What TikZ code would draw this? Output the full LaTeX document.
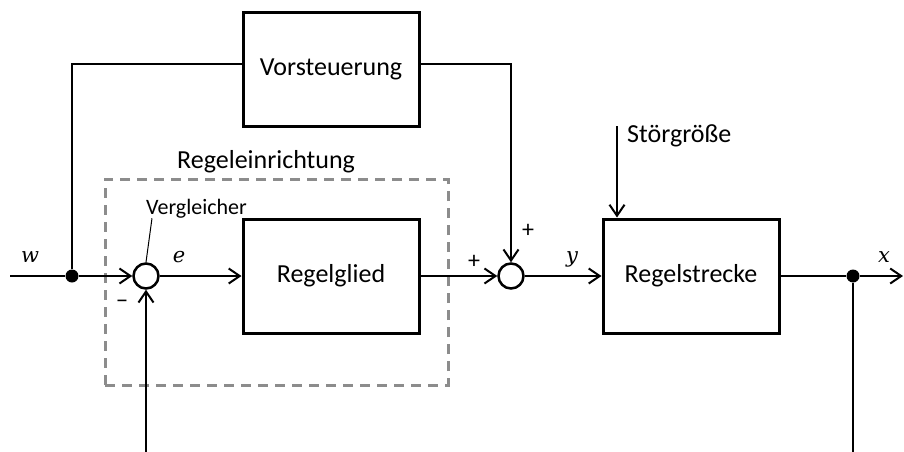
\documentclass[tikz,border=0pt]{standalone}
\usepackage{fontspec}
\setmainfont{Carlito}
\newfontfamily\varfont{DejaVu Serif}
\usetikzlibrary{arrows.meta}

\tikzset{
  blk/.style={draw, line width=3pt, minimum width=176pt, minimum height=114pt,
    inner sep=0pt, font=\fontsize{26}{31}\selectfont},
  sumc/.style={circle, draw, line width=2.5pt, minimum size=25pt, inner sep=0pt},
  dot/.style={circle, fill=black, minimum size=13pt, inner sep=0pt},
  wire/.style={line width=2pt},
  arr/.style={wire, -{Straight Barb[length=11pt, width=15pt]}},
  txt/.style={inner sep=0pt, font=\fontsize{26}{31}\selectfont},
  smalltxt/.style={inner sep=0pt, font=\fontsize{22}{26}\selectfont},
  signtxt/.style={inner sep=0pt, font=\fontsize{24}{28}\selectfont},
  vartxt/.style={inner sep=0pt, font=\varfont\itshape\fontsize{21}{25}\selectfont},
  group/.style={draw=black!45, line width=3pt, dash pattern=on 10pt off 7pt,
    minimum width=343pt, minimum height=206pt, inner sep=0pt},
}

\begin{document}
\begin{tikzpicture}[x=1pt, y=-1pt]
  \useasboundingbox (0,0) rectangle (904,452);

  % controller group (dashed)
  \node[group] (grp) at (276.5,282) {};
  \node[txt, anchor=west] (grplbl) at (177,162) {Regeleinrichtung};

  % blocks
  \node[blk, minimum height=113pt] (vs) at (331,69.5) {Vorsteuerung};
  \node[blk] (rg) at (331,276) {Regelglied};
  \node[blk] (rs) at (691,276) {Regelstrecke};

  % summing points and branch points
  \node[sumc] (cmp) at (146,276) {};
  \node[sumc] (sum) at (511,276) {};
  \node[dot] (j1) at (72,276) {};
  \node[dot] (j2) at (853,276) {};

  % free ends
  \coordinate (win) at (10,276);
  \coordinate (xout) at (903,276);
  \coordinate (fbL) at (146,452);
  \coordinate (fbR) at (853,452);
  \coordinate (dist) at (617,126);

  % signal flow
  \draw[wire] (win) -- (j1);
  \draw[arr] (j1) -- (cmp);
  \draw[arr] (cmp) -- (rg);
  \draw[arr] (rg) -- (sum);
  \draw[arr] (sum) -- (rs);
  \draw[wire] (rs) -- (j2);
  \draw[arr] (j2) -- (xout);
  \draw[wire] (j2) -- (fbR);
  \draw[arr] (fbL) -- (cmp);
  \draw[wire] (j1) |- ([yshift=5.5pt]vs.west);
  \draw[arr] ([yshift=5.5pt]vs.east) -| (sum);
  \draw[arr] (dist) -- (rs.north -| dist);

  % signal names
  \node[vartxt] (lw) at (30,257) {w};
  \node[vartxt] (le) at (179,257) {e};
  \node[vartxt] (ly) at (572,259) {y};
  \node[vartxt] (lx) at (884,257) {x};

  % other labels
  \node[txt, anchor=west] (lstoer) at (627,136) {Störgröße};
  \node[smalltxt, anchor=west] (lvgl) at (146,209) {Vergleicher};
  \draw[line width=1pt] (cmp.north) -- ++(6,-44);
  \node[signtxt] (pTop) at (528,231) {+};
  \node[signtxt] (pLeft) at (474,262) {+};
  \node[signtxt] (mBot) at (122,304) {−};
\end{tikzpicture}
\end{document}
